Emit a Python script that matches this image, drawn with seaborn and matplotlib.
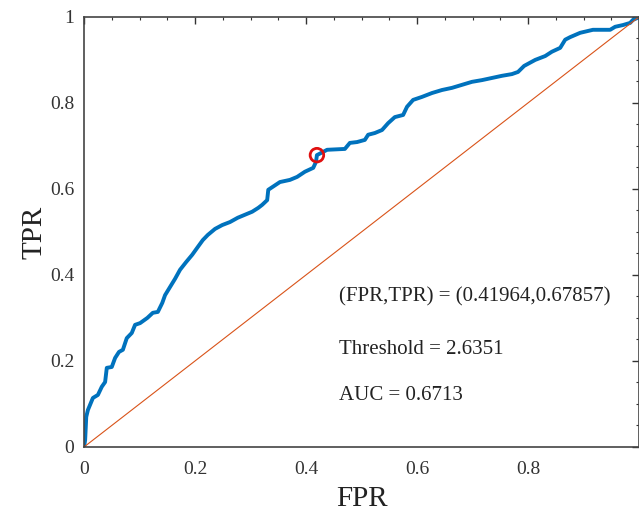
import numpy as np
import pandas as pd
import seaborn as sns
import matplotlib.pyplot as plt
from matplotlib.ticker import MultipleLocator

# ROC curve points
fpr = [0.0, 0.002, 0.004, 0.007, 0.016, 0.025, 0.032, 0.038, 0.041, 0.050,
       0.056, 0.063, 0.070, 0.077, 0.086, 0.092, 0.101, 0.114, 0.124, 0.133,
       0.141, 0.146, 0.155, 0.164, 0.173, 0.184, 0.195, 0.205, 0.214, 0.223,
       0.236, 0.249, 0.263, 0.277, 0.290, 0.303, 0.314, 0.321, 0.330, 0.332,
       0.353, 0.371, 0.384, 0.398, 0.413, 0.418, 0.41964, 0.438, 0.470, 0.479,
       0.492, 0.506, 0.512, 0.524, 0.537, 0.548, 0.560, 0.575, 0.582, 0.593,
       0.609, 0.627, 0.645, 0.663, 0.681, 0.699, 0.717, 0.735, 0.753, 0.771,
       0.782, 0.793, 0.813, 0.831, 0.843, 0.858, 0.867, 0.876, 0.894, 0.917,
       0.948, 0.957, 0.971, 0.984, 0.989, 0.998, 1.0]
tpr = [0.0, 0.016, 0.070, 0.086, 0.114, 0.121, 0.140, 0.151, 0.184, 0.186,
       0.207, 0.221, 0.226, 0.253, 0.265, 0.284, 0.288, 0.300, 0.312, 0.314,
       0.335, 0.353, 0.372, 0.391, 0.412, 0.430, 0.447, 0.465, 0.481, 0.493,
       0.507, 0.516, 0.523, 0.533, 0.540, 0.547, 0.556, 0.563, 0.574, 0.598,
       0.616, 0.621, 0.628, 0.640, 0.649, 0.663, 0.67857, 0.691, 0.693, 0.707,
       0.709, 0.714, 0.726, 0.730, 0.737, 0.753, 0.767, 0.772, 0.791, 0.807,
       0.814, 0.823, 0.830, 0.835, 0.842, 0.849, 0.853, 0.858, 0.863, 0.867,
       0.872, 0.886, 0.900, 0.909, 0.919, 0.928, 0.947, 0.953, 0.963, 0.970,
       0.970, 0.977, 0.981, 0.986, 0.993, 0.998, 1.0]

diag = [0.0, 1.0]
opt_point = (0.41964, 0.67857)
threshold = 2.6351
auc = 0.6713

roc = pd.DataFrame({"fpr": fpr, "tpr": tpr})

sns.set_theme(style="white")
plt.rcParams["font.family"] = ["Liberation Serif", "DejaVu Serif"]

fig = plt.figure(figsize=(6.39, 5.12), dpi=100)
ax = fig.add_axes([0.1315, 0.127, 0.8685, 0.840])

sns.lineplot(data=roc, x="fpr", y="tpr", sort=False, estimator=None,
             color="#0072BD", linewidth=2.8, ax=ax)
sns.lineplot(x=diag, y=diag, color="#D95319", linewidth=0.8, ax=ax)
sns.scatterplot(x=[opt_point[0]], y=[opt_point[1]], s=95, marker="o",
                facecolor="none", edgecolor="#E01010", linewidth=2, ax=ax,
                zorder=5)

ax.text(0.46, 0.349, f"(FPR,TPR) = ({opt_point[0]},{opt_point[1]})",
        fontsize=15, va="center", color="#222222")
ax.text(0.46, 0.226, f"Threshold = {threshold}", fontsize=15, va="center",
        color="#222222")
ax.text(0.46, 0.119, f"AUC = {auc}", fontsize=15, va="center",
        color="#222222")

ax.set_xlim(0, 1)
ax.set_ylim(0, 1)
ax.set_xticks([0, 0.2, 0.4, 0.6, 0.8])
ax.set_xticklabels(["0", "0.2", "0.4", "0.6", "0.8"])
ax.set_yticks([0, 0.2, 0.4, 0.6, 0.8, 1])
ax.set_yticklabels(["0", "0.2", "0.4", "0.6", "0.8", "1"])
ax.xaxis.set_minor_locator(MultipleLocator(0.05))
ax.yaxis.set_minor_locator(MultipleLocator(0.05))
ax.tick_params(which="both", direction="in", top=True, right=True,
               color="#333333", labelsize=14, labelcolor="#333333")
ax.tick_params(which="major", length=5, width=1, pad=7)
ax.tick_params(axis="x", which="major", pad=10)
ax.tick_params(which="minor", length=2.5, width=0.8)
for s in ax.spines.values():
    s.set_color("#444444")
    s.set_linewidth(1.2)

ax.set_xlabel("FPR", fontsize=21, color="#222222", labelpad=6)
ax.set_ylabel("TPR", fontsize=21, color="#222222", labelpad=2)

fig.savefig("out.png", dpi=100)
